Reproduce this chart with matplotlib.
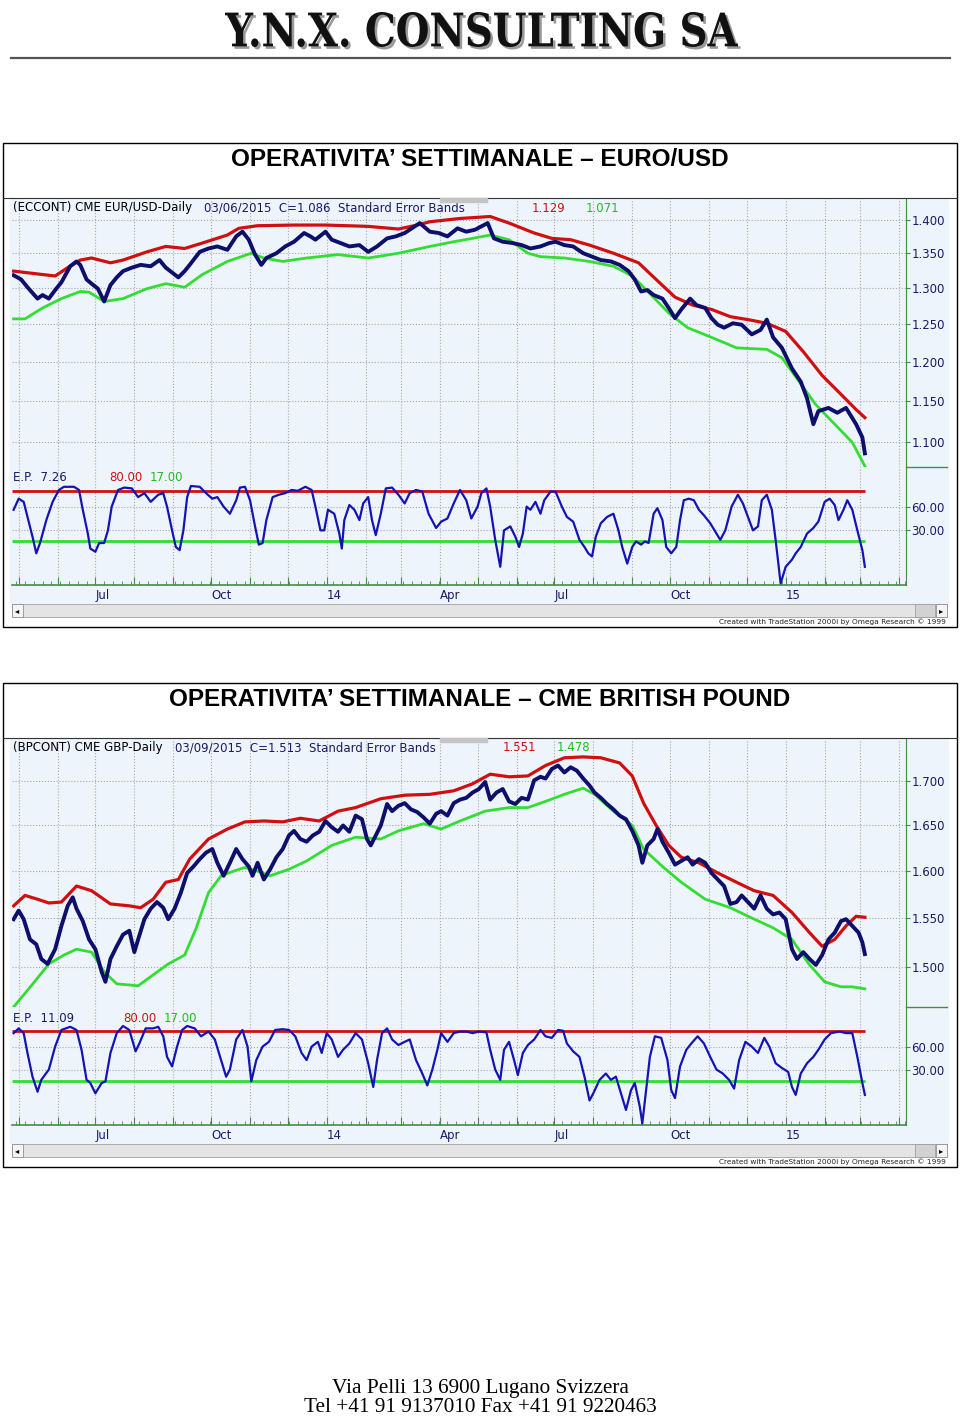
import pandas as pd
import matplotlib
matplotlib.use('Agg')
import matplotlib.pyplot as plt
import matplotlib.dates as mdates
from matplotlib.patches import Rectangle, PathPatch
from matplotlib.lines import Line2D
from matplotlib.textpath import TextPath
from matplotlib.font_manager import FontProperties
from matplotlib.transforms import Affine2D
from matplotlib.ticker import FixedLocator, FuncFormatter, NullLocator, NullFormatter

W, H = 960, 1418
START = pd.Timestamp('2013-04-26')   # giorno 0 delle serie
LAST = pd.Timestamp('2015-03-09')    # ultima barra

# ---------------- EURO/USD ----------------
eur_days = [1, 7, 12, 20, 24, 29, 34, 39, 46, 51,
            54, 59, 63, 68, 73, 78, 83, 88, 95, 102,
            110, 117, 122, 127, 132, 137, 141, 149, 156, 163,
            171, 178, 183, 188, 193, 198, 202, 210, 217, 224,
            232, 237, 241, 249, 254, 261, 268, 276, 283, 290,
            298, 305, 312, 320, 324, 332, 339, 346, 354, 361,
            368, 373, 378, 383, 390, 398, 405, 412, 420, 427,
            432, 439, 446, 454, 461, 468, 476, 483, 490, 495,
            500, 505, 510, 517, 522, 527, 532, 539, 544, 551,
            556, 561, 566, 573, 580, 588, 595, 600, 605, 612,
            620, 627, 632, 637, 641, 649, 656, 663, 671, 676,
            678]
eur_close = [1.318, 1.312, 1.301, 1.285, 1.290, 1.285, 1.297, 1.308, 1.331, 1.338,
             1.333, 1.312, 1.306, 1.299, 1.281, 1.304, 1.315, 1.324, 1.329, 1.333,
             1.331, 1.340, 1.329, 1.322, 1.315, 1.324, 1.333, 1.352, 1.357, 1.360,
             1.355, 1.375, 1.382, 1.370, 1.348, 1.333, 1.343, 1.350, 1.360, 1.367,
             1.380, 1.375, 1.370, 1.382, 1.370, 1.365, 1.360, 1.362, 1.352, 1.360,
             1.372, 1.375, 1.380, 1.390, 1.395, 1.382, 1.380, 1.375, 1.387, 1.382,
             1.385, 1.390, 1.395, 1.372, 1.367, 1.365, 1.362, 1.357, 1.360, 1.365,
             1.367, 1.362, 1.360, 1.350, 1.345, 1.340, 1.338, 1.333, 1.324, 1.312,
             1.295, 1.297, 1.290, 1.285, 1.272, 1.258, 1.270, 1.285, 1.276, 1.272,
             1.258, 1.249, 1.245, 1.251, 1.249, 1.236, 1.242, 1.256, 1.232, 1.218,
             1.191, 1.174, 1.153, 1.121, 1.137, 1.141, 1.135, 1.141, 1.121, 1.105,
             1.086]
eur_up_days = [1, 15, 34, 44, 54, 63, 78, 88, 107, 122,
               137, 151, 171, 180, 195, 224, 249, 283, 307, 322,
               332, 356, 380, 395, 415, 429, 444, 459, 478, 498,
               512, 527, 541, 556, 571, 585, 600, 615, 629, 644,
               659, 671, 678]
eur_up = [1.324, 1.321, 1.317, 1.329, 1.340, 1.343, 1.336, 1.340, 1.352, 1.360,
          1.357, 1.365, 1.377, 1.387, 1.391, 1.392, 1.392, 1.390, 1.386, 1.392,
          1.397, 1.402, 1.405, 1.395, 1.380, 1.372, 1.370, 1.362, 1.350, 1.336,
          1.312, 1.287, 1.276, 1.270, 1.260, 1.256, 1.251, 1.240, 1.213, 1.182,
          1.158, 1.139, 1.129]
eur_lo_days = [1, 10, 24, 39, 54, 61, 73, 88, 107, 122,
               137, 151, 171, 190, 200, 215, 234, 259, 283, 307,
               332, 351, 366, 380, 395, 410, 420, 439, 459, 478,
               493, 507, 522, 537, 556, 576, 600, 612, 624, 639,
               654, 668, 678]
eur_lo = [1.257, 1.257, 1.272, 1.285, 1.295, 1.294, 1.281, 1.285, 1.299, 1.306,
          1.301, 1.319, 1.338, 1.350, 1.343, 1.338, 1.343, 1.348, 1.343, 1.350,
          1.360, 1.367, 1.372, 1.377, 1.370, 1.350, 1.345, 1.343, 1.338, 1.331,
          1.317, 1.292, 1.265, 1.245, 1.232, 1.218, 1.216, 1.205, 1.178, 1.145,
          1.121, 1.099, 1.071]
eur_ep_days = [1, 5, 9, 12, 16, 19, 22, 27, 32, 37,
               41, 49, 53, 56, 60, 62, 66, 69, 73, 76,
               79, 84, 89, 95, 100, 105, 110, 116, 120, 123,
               127, 130, 133, 136, 139, 142, 149, 154, 159, 163,
               168, 173, 178, 181, 185, 189, 193, 196, 199, 202,
               207, 212, 217, 222, 227, 233, 238, 241, 245, 248,
               251, 256, 260, 262, 264, 268, 272, 276, 279, 283,
               286, 289, 293, 297, 302, 307, 312, 316, 321, 326,
               331, 337, 341, 346, 351, 356, 361, 365, 370, 373,
               377, 380, 384, 388, 391, 396, 400, 403, 406, 409,
               412, 416, 420, 423, 428, 432, 437, 441, 446, 451,
               455, 458, 461, 464, 468, 473, 478, 482, 485, 489,
               493, 496, 500, 503, 506, 510, 513, 517, 520, 524,
               528, 531, 534, 538, 542, 546, 550, 555, 560, 563,
               567, 572, 577, 581, 585, 589, 593, 596, 600, 604,
               607, 611, 615, 620, 623, 627, 632, 637, 641, 646,
               650, 654, 657, 661, 664, 668, 672, 676, 678]
eur_ep = [56, 70, 66, 47, 22, 1, 14, 43, 66, 81,
          85, 85, 81, 56, 26, 7, 3, 14, 14, 30,
          60, 81, 84, 83, 72, 77, 66, 75, 77, 60,
          30, 9, 5, 30, 72, 86, 85, 77, 70, 72,
          60, 51, 68, 84, 85, 68, 35, 12, 14, 43,
          72, 75, 77, 81, 80, 85, 81, 60, 30, 30,
          56, 51, 26, 7, 43, 62, 56, 43, 64, 72,
          43, 24, 51, 83, 84, 75, 64, 77, 81, 79,
          51, 33, 41, 45, 64, 81, 68, 45, 60, 77,
          83, 60, 18, -16, 30, 35, 22, 9, 26, 60,
          56, 66, 51, 68, 79, 79, 60, 47, 41, 18,
          9, 1, -3, 22, 39, 47, 51, 30, 9, -12,
          9, 16, 12, 16, 14, 51, 58, 43, 9, 1,
          9, 43, 68, 70, 68, 56, 49, 39, 26, 18,
          30, 60, 75, 64, 47, 30, 35, 68, 75, 56,
          18, -37, -16, -7, 1, 9, 26, 33, 41, 66,
          70, 62, 43, 56, 68, 56, 30, 5, -16]

# ---------------- BRITISH POUND ----------------
gbp_days = [1, 5, 9, 14, 19, 23, 28, 34, 39, 44,
            48, 51, 56, 61, 66, 71, 74, 78, 83, 88,
            93, 97, 100, 105, 110, 115, 120, 124, 129, 134,
            139, 144, 149, 154, 159, 163, 168, 173, 178, 183,
            188, 191, 195, 200, 205, 210, 215, 220, 224, 229,
            234, 239, 244, 249, 254, 259, 263, 268, 273, 278,
            282, 285, 289, 293, 298, 302, 307, 312, 317, 322,
            327, 332, 337, 341, 346, 351, 356, 361, 366, 371,
            376, 380, 385, 390, 395, 400, 405, 410, 415, 420,
            424, 429, 434, 439, 444, 449, 454, 459, 463, 468,
            473, 478, 483, 488, 493, 498, 501, 505, 510, 513,
            517, 522, 527, 532, 537, 541, 546, 551, 556, 561,
            566, 571, 576, 580, 585, 590, 595, 600, 605, 610,
            615, 620, 624, 629, 634, 639, 644, 649, 654, 659,
            663, 668, 673, 676, 678]
gbp_close = [1.549, 1.558, 1.549, 1.528, 1.523, 1.508, 1.503, 1.518, 1.542, 1.563,
             1.572, 1.560, 1.547, 1.528, 1.518, 1.495, 1.485, 1.508, 1.521, 1.533,
             1.537, 1.515, 1.528, 1.549, 1.560, 1.567, 1.561, 1.549, 1.560, 1.577,
             1.598, 1.605, 1.613, 1.620, 1.624, 1.609, 1.595, 1.609, 1.624, 1.613,
             1.605, 1.595, 1.609, 1.591, 1.602, 1.615, 1.624, 1.639, 1.644, 1.635,
             1.632, 1.639, 1.643, 1.655, 1.648, 1.643, 1.650, 1.643, 1.661, 1.657,
             1.635, 1.628, 1.639, 1.650, 1.674, 1.666, 1.672, 1.675, 1.668, 1.665,
             1.659, 1.652, 1.663, 1.666, 1.661, 1.675, 1.679, 1.681, 1.687, 1.691,
             1.699, 1.679, 1.687, 1.691, 1.677, 1.674, 1.681, 1.679, 1.701, 1.705,
             1.703, 1.714, 1.718, 1.710, 1.716, 1.712, 1.703, 1.695, 1.687, 1.681,
             1.674, 1.668, 1.661, 1.657, 1.644, 1.628, 1.609, 1.628, 1.635, 1.646,
             1.632, 1.620, 1.607, 1.611, 1.615, 1.607, 1.613, 1.609, 1.598, 1.591,
             1.584, 1.565, 1.567, 1.574, 1.567, 1.560, 1.574, 1.560, 1.554, 1.556,
             1.549, 1.518, 1.508, 1.515, 1.508, 1.502, 1.512, 1.528, 1.535, 1.547,
             1.549, 1.542, 1.535, 1.525, 1.513]
gbp_up_days = [1, 10, 20, 29, 39, 51, 63, 78, 93, 102,
               112, 122, 132, 141, 156, 171, 185, 200, 215, 229,
               244, 259, 273, 293, 312, 332, 351, 366, 380, 395,
               410, 424, 439, 454, 468, 483, 493, 502, 512, 522,
               532, 546, 561, 576, 590, 605, 620, 634, 644, 654,
               663, 671, 678]
gbp_up = [1.563, 1.574, 1.570, 1.566, 1.567, 1.584, 1.579, 1.565, 1.563, 1.561,
          1.570, 1.588, 1.591, 1.613, 1.635, 1.646, 1.654, 1.655, 1.654, 1.658,
          1.655, 1.666, 1.670, 1.680, 1.684, 1.685, 1.689, 1.697, 1.708, 1.705,
          1.706, 1.718, 1.727, 1.728, 1.727, 1.721, 1.706, 1.675, 1.650, 1.628,
          1.615, 1.609, 1.598, 1.588, 1.579, 1.574, 1.556, 1.535, 1.521, 1.528,
          1.542, 1.552, 1.551]
gbp_lo_days = [1, 15, 29, 41, 51, 63, 73, 83, 100, 112,
               124, 137, 146, 156, 166, 176, 185, 195, 205, 220,
               234, 254, 273, 293, 307, 327, 341, 356, 376, 395,
               410, 424, 439, 454, 463, 478, 493, 502, 517, 532,
               551, 571, 590, 605, 620, 634, 646, 659, 668, 678]
gbp_lo = [1.460, 1.481, 1.503, 1.512, 1.518, 1.515, 1.495, 1.483, 1.481, 1.492,
          1.503, 1.512, 1.539, 1.577, 1.595, 1.600, 1.604, 1.600, 1.595, 1.602,
          1.611, 1.628, 1.637, 1.635, 1.644, 1.652, 1.646, 1.655, 1.666, 1.670,
          1.670, 1.677, 1.685, 1.692, 1.685, 1.666, 1.650, 1.624, 1.605, 1.588,
          1.570, 1.561, 1.549, 1.540, 1.528, 1.502, 1.485, 1.480, 1.480, 1.478]
gbp_ep_days = [1, 5, 9, 12, 16, 20, 23, 29, 34, 39,
               46, 51, 55, 59, 62, 66, 71, 74, 78, 83,
               88, 93, 98, 101, 106, 112, 116, 120, 123, 127,
               131, 135, 139, 145, 150, 156, 161, 166, 170, 173,
               178, 183, 187, 190, 194, 199, 204, 209, 215, 220,
               225, 230, 234, 238, 243, 246, 250, 254, 259, 263,
               268, 273, 278, 283, 287, 290, 294, 298, 302, 307,
               312, 316, 321, 326, 330, 334, 338, 341, 346, 351,
               356, 361, 366, 371, 377, 380, 384, 388, 391, 395,
               399, 402, 406, 410, 415, 420, 424, 429, 434, 438,
               441, 446, 451, 455, 459, 462, 467, 472, 476, 480,
               484, 488, 492, 495, 499, 501, 504, 507, 511, 516,
               521, 524, 527, 531, 536, 540, 545, 550, 555, 560,
               565, 570, 574, 578, 583, 588, 593, 598, 602, 607,
               612, 617, 620, 623, 627, 632, 637, 641, 646, 651,
               658, 663, 668, 672, 676, 678]
gbp_ep = [77, 83, 77, 52, 22, 3, 18, 31, 60, 81,
          85, 81, 56, 18, 14, 1, 14, 16, 52, 77,
          86, 81, 54, 64, 83, 83, 85, 73, 47, 35,
          60, 81, 86, 83, 73, 79, 69, 43, 22, 31,
          69, 81, 60, 16, 43, 60, 66, 81, 82, 81,
          73, 52, 43, 60, 66, 52, 77, 69, 47, 56,
          64, 77, 69, 39, 9, 43, 77, 83, 69, 62,
          66, 69, 43, 26, 11, 31, 56, 77, 66, 77,
          79, 79, 77, 79, 78, 56, 31, 18, 56, 66,
          43, 24, 52, 62, 69, 81, 73, 71, 81, 80,
          64, 54, 47, 22, -8, 1, 18, 26, 18, 22,
          1, -20, 5, 14, -16, -37, 5, 47, 73, 71,
          43, 5, -5, 35, 56, 64, 73, 64, 47, 31,
          26, 18, 7, 43, 66, 60, 52, 71, 60, 39,
          33, 28, 9, -1, 26, 39, 47, 56, 69, 77,
          79, 77, 77, 47, 14, -1]

BG = '#eef4fb'
NAVY = '#0e0e6c'
RED = '#d01010'
GREEN = '#33dd33'
OSC = '#1414b4'
LBL = '#1a1a66'
AXG = '#4a8a4a'
GRID = '#a9a9a9'

fig = plt.figure(figsize=(W / 100, H / 100), dpi=100)


def fx(px):
    return px / W


def fy(py):
    return 1 - py / H


def to_dates(days):
    return START + pd.to_timedelta(days, unit='D')


def qlabel(x, pos):
    d = mdates.num2date(x).replace(tzinfo=None)
    if d > LAST:
        return ''
    return {1: '%02d' % (d.year % 100), 4: 'Apr', 7: 'Jul', 10: 'Oct'}.get(d.month, '')


def fig_rect(l, t, r, b, **kw):
    fig.add_artist(Rectangle((fx(l), fy(b)), (r - l) / W, (b - t) / H,
                             transform=fig.transFigure, **kw))


def fig_line(xs, ys, **kw):
    fig.add_artist(Line2D([fx(x) for x in xs], [fy(y) for y in ys],
                          transform=fig.transFigure, **kw))


def draw_chart(off, title, name, info, info_x, band_txt, band_x, ep_txt, lim_x,
               p_days, p_vals, u_days, u_vals, l_days, l_vals, e_days, e_vals,
               ylim, yticks):
    # cornice e titolo
    fig_rect(3, 143 + off, 957, 627 + off, fill=False, ec='black', lw=1.0)
    fig_line([3, 957], [198 + off, 198 + off], color='#333333', lw=0.8)
    fig.text(fx(480), fy(159 + off), title, ha='center', va='center',
             fontsize=17.5, fontweight='bold', family='Liberation Sans')
    fig_rect(10, 199 + off, 948, 603 + off, color=BG, zorder=-2)

    ax = fig.add_axes([fx(12), fy(467 + off), 894 / W, 268 / H])
    ax2 = fig.add_axes([fx(12), fy(585 + off), 894 / W, 118 / H], sharex=ax)

    # prezzo + bande
    ax.set_facecolor(BG)
    ax.set_yscale('log')
    ax.plot(to_dates(u_days), u_vals, color=RED, lw=2.3, zorder=3)
    ax.plot(to_dates(l_days), l_vals, color=GREEN, lw=2.0, zorder=3)
    ax.plot(to_dates(p_days), p_vals, color=NAVY, lw=2.8, zorder=4)
    ax.set_ylim(*ylim)
    ax.yaxis.set_major_locator(FixedLocator(yticks))
    ax.yaxis.set_major_formatter(FuncFormatter(lambda v, p: '%.3f' % v))
    ax.yaxis.set_minor_locator(NullLocator())
    ax.yaxis.set_minor_formatter(NullFormatter())
    ax.yaxis.tick_right()
    ax.tick_params(axis='y', direction='out', length=3, pad=1, labelsize=8.5,
                   labelcolor=LBL, color=AXG)
    ax.tick_params(axis='x', which='both', bottom=False, labelbottom=False)
    for s in ['top', 'left', 'bottom']:
        ax.spines[s].set_visible(False)
    ax.spines['right'].set_color(AXG)
    ax.grid(axis='y', ls=':', color=GRID, lw=0.8)
    ax.grid(axis='x', which='major', ls=':', color=GRID, lw=0.8)

    # oscillatore
    ax2.set_facecolor(BG)
    d0, d1 = to_dates([0, p_days[-1]])
    ax2.hlines(80, d0, d1, color=RED, lw=2.0, zorder=3)
    ax2.hlines(17, d0, d1, color=GREEN, lw=2.0, zorder=3)
    ax2.plot(to_dates(e_days), e_vals, color=OSC, lw=1.6, zorder=4)
    ax2.set_ylim(-39, 110)
    ax2.yaxis.tick_right()
    ax2.set_yticks([60, 30])
    ax2.set_yticklabels(['60.00', '30.00'])
    ax2.tick_params(axis='y', direction='out', length=3, pad=1, labelsize=8.5,
                    labelcolor=LBL, color=AXG)
    ax2.grid(axis='y', ls=':', color=GRID, lw=0.8)
    ax2.grid(axis='x', which='major', ls=':', color=GRID, lw=0.8)
    for s in ['top', 'left']:
        ax2.spines[s].set_visible(False)
    ax2.spines['right'].set_color(AXG)
    ax2.spines['bottom'].set_color(AXG)
    ax2.spines['bottom'].set_linewidth(1.2)

    ax2.xaxis.set_major_locator(mdates.MonthLocator())
    ax2.xaxis.set_major_formatter(FuncFormatter(qlabel))
    ax2.xaxis.set_minor_locator(mdates.WeekdayLocator(byweekday=mdates.MO))
    ax2.set_xlim(to_dates([-0.3])[0], to_dates([710.7])[0])
    ax2.tick_params(axis='x', which='major', direction='in', length=6, color=AXG,
                    labelsize=8.5, labelcolor=LBL, pad=3)
    ax2.tick_params(axis='x', which='minor', direction='in', length=3, color=AXG)
    plt.setp(ax2.get_xticklabels(), ha='left')

    fig_line([906, 947], [467 + off, 467 + off], color=AXG, lw=1)

    # testi interni
    ty = fy(208 + off)
    fig.text(fx(13), ty, name, color='black', fontsize=8.5, va='center')
    fig.text(fx(info_x), ty, info, color=LBL, fontsize=8.5, va='center')
    fig.text(fx(band_x[0]), ty, band_txt[0], color=RED, fontsize=8.5, va='center')
    fig.text(fx(band_x[1]), ty, band_txt[1], color='#22bb22', fontsize=8.5, va='center')
    fig_rect(440, 198 + off, 487, 202 + off, color='#c4c4c4', zorder=5)

    ey = fy(478 + off)
    fig.text(fx(13), ey, ep_txt, color=LBL, fontsize=8.5, va='center')
    fig.text(fx(lim_x[0]), ey, '80.00', color=RED, fontsize=8.5, va='center')
    fig.text(fx(lim_x[1]), ey, '17.00', color='#22bb22', fontsize=8.5, va='center')

    # barra di scorrimento
    fig_rect(12, 604 + off, 947, 617 + off, fc='#e4e4e4', ec='#a0a0a0', lw=0.6)
    fig_rect(12, 604 + off, 23, 617 + off, fc='#f4f4f4', ec='#909090', lw=0.6)
    fig_rect(936, 604 + off, 947, 617 + off, fc='#f4f4f4', ec='#909090', lw=0.6)
    fig_rect(915, 604 + off, 935, 617 + off, fc='#d2d2d2', ec='#a0a0a0', lw=0.6)
    fig.text(fx(17.5), fy(610.5 + off), '\u25c2', fontsize=6, ha='center', va='center')
    fig.text(fx(941.5), fy(610.5 + off), '\u25b8', fontsize=6, ha='center', va='center')
    fig.text(fx(946), fy(622 + off), 'Created with TradeStation 2000i by Omega Research \u00a9 1999',
             fontsize=5.3, ha='right', va='center', color='#222222',
             family=['Liberation Sans Narrow', 'DejaVu Sans'])


draw_chart(0, 'OPERATIVITA\u2019 SETTIMANALE \u2013 EURO/USD',
           '(ECCONT) CME EUR/USD-Daily', '03/06/2015  C=1.086  Standard Error Bands', 204,
           ('1.129', '1.071'), (532, 586), 'E.P.  7.26', (109, 150),
           eur_days, eur_close, eur_up_days, eur_up, eur_lo_days, eur_lo,
           eur_ep_days, eur_ep, (1.070, 1.432),
           [1.40, 1.35, 1.30, 1.25, 1.20, 1.15, 1.10])

draw_chart(540, 'OPERATIVITA\u2019 SETTIMANALE \u2013 CME BRITISH POUND',
           '(BPCONT) CME GBP-Daily', '03/09/2015  C=1.513  Standard Error Bands', 175,
           ('1.551', '1.478'), (503, 557), 'E.P.  11.09', (123, 164),
           gbp_days, gbp_close, gbp_up_days, gbp_up, gbp_lo_days, gbp_lo,
           gbp_ep_days, gbp_ep, (1.460, 1.749),
           [1.70, 1.65, 1.60, 1.55, 1.50])

# intestazione
fp = FontProperties(family='DejaVu Serif', weight='bold')
tp = TextPath((0, 0), 'Y.N.X. CONSULTING SA', size=100, prop=fp)
bb = tp.get_extents()
sx, sy = 513 / bb.width, 35 / bb.height
for dx, dy, col in [(2.5, 2.5, '#9a9a9a'), (0, 0, '#111111')]:
    tr = (Affine2D().translate(-bb.x0, -bb.y0).scale(sx / W, sy / H)
          .translate(fx(225 + dx), fy(47 + dy)) + fig.transFigure)
    fig.add_artist(PathPatch(tp, transform=tr, fc=col, ec='none'))
fig_line([11, 950], [58, 58], color='#555555', lw=1.6)

# piè di pagina
fig.text(fx(480), fy(1388), 'Via Pelli 13 6900 Lugano Svizzera', ha='center', va='center',
         fontsize=15.3, family='Liberation Serif')
fig.text(fx(480), fy(1408), 'Tel +41 91 9137010 Fax +41 91 9220463', ha='center', va='center',
         fontsize=15.3, family='Liberation Serif')

fig.savefig('out.png', dpi=100, facecolor='white')
